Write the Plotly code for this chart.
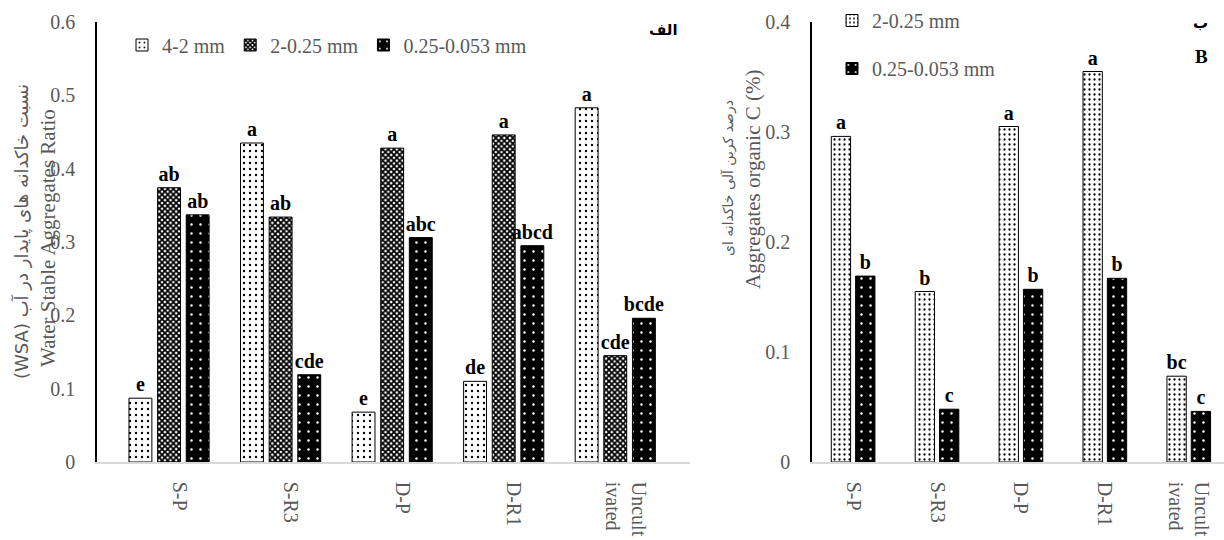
import plotly.graph_objects as go

# ---------------- data ----------------
categories = ["S-P", "S-R3", "D-P", "D-R1", "Uncult<br>ivated"]

# left panel (Water Stable Aggregates Ratio)
wsa_4_2 = [0.087, 0.435, 0.068, 0.110, 0.483]
wsa_2_025 = [0.374, 0.334, 0.428, 0.446, 0.145]
wsa_025_0053 = [0.337, 0.119, 0.306, 0.295, 0.196]
wsa_4_2_letters = ["e", "a", "e", "de", "a"]
wsa_2_025_letters = ["ab", "ab", "a", "a", "cde"]
wsa_025_0053_letters = ["ab", "cde", "abc", "abcd", "bcde"]

# right panel (Aggregates organic C %)
oc_2_025 = [0.296, 0.155, 0.305, 0.355, 0.078]
oc_025_0053 = [0.169, 0.048, 0.157, 0.167, 0.046]
oc_2_025_letters = ["a", "b", "a", "a", "bc"]
oc_025_0053_letters = ["b", "c", "b", "b", "c"]

left_ticks = [0, 0.1, 0.2, 0.3, 0.4, 0.5, 0.6]
right_ticks = [0, 0.1, 0.2, 0.3, 0.4]

# ---------------- style ----------------
W, H = 1224, 540
SERIF = "Liberation Serif"
GRAY = "#595959"
xpos = list(range(len(categories)))

def px(x):
    return x / W

def py(y):
    return 1 - y / H

dots = dict(shape=".", fgcolor="black", bgcolor="white", size=6, solidity=0.12)
dots_dense = dict(shape=".", fgcolor="black", bgcolor="white", size=5, solidity=0.16)
checker = dict(shape="x", fgcolor="black", bgcolor="white", size=4, solidity=0.7)
black_dots = dict(shape=".", fgcolor="white", bgcolor="black", size=9, solidity=0.06)

txtfont = dict(family=SERIF, size=20, color="black", weight="bold")

fig = go.Figure()

def add_bar(y, letters, name, pattern, xa, ya, legend):
    fig.add_trace(go.Bar(
        x=xpos, y=y, name=name, text=letters,
        textposition="outside", textfont=txtfont, constraintext="none",
        cliponaxis=False,
        marker=dict(color="white", pattern=pattern,
                    line=dict(color="black", width=1)),
        xaxis=xa, yaxis=ya, legend=legend, legendgroup=name + legend,
        offsetgroup=name + xa,
    ))

add_bar(wsa_4_2, wsa_4_2_letters, "4-2 mm", dots, "x", "y", "legend")
add_bar(wsa_2_025, wsa_2_025_letters, "2-0.25 mm", checker, "x", "y", "legend")
add_bar(wsa_025_0053, wsa_025_0053_letters, "0.25-0.053 mm", black_dots, "x", "y", "legend")
add_bar(oc_2_025, oc_2_025_letters, "2-0.25 mm", dots_dense, "x2", "y2", "legend2")
add_bar(oc_025_0053, oc_025_0053_letters, "0.25-0.053 mm", black_dots, "x2", "y2", "legend2")

tickfont = dict(family=SERIF, size=20, color=GRAY)

xcommon = dict(tickvals=xpos, ticktext=categories, tickangle=90, tickfont=tickfont,
               showline=True, linecolor="#d9d9d9", linewidth=1.5, showgrid=False,
               zeroline=False, ticks="", ticklabelstandoff=14, automargin=False)
ycommon = dict(showline=True, linecolor="black", linewidth=1.5, showgrid=False,
               zeroline=False, ticks="", tickfont=tickfont, ticklabelstandoff=16,
               automargin=False)

fig.update_layout(
    template="none",
    width=W, height=H,
    margin=dict(l=0, r=0, t=0, b=0, autoexpand=False),
    paper_bgcolor="white", plot_bgcolor="white",
    barmode="group", bargap=0.23, bargroupgap=0.2,
    font=dict(family=SERIF, color=GRAY),
    showlegend=True,
    xaxis=dict(domain=[px(97), px(690)], range=[-0.646, 4.67], ticklabelshift=10,
               **xcommon),
    yaxis=dict(domain=[py(462), py(22)], range=[0, 0.6], tickvals=left_ticks,
               ticktext=[f"{v:g}" for v in left_ticks], anchor="x", **ycommon),
    xaxis2=dict(domain=[px(812), 1], range=[-0.49, 4.42], anchor="y2", **xcommon),
    yaxis2=dict(domain=[py(462), py(22)], range=[0, 0.4], tickvals=right_ticks,
                ticktext=[f"{v:g}" for v in right_ticks], anchor="x2", **ycommon),
    legend=dict(orientation="h", x=px(122), y=py(45), xanchor="left", yanchor="middle",
                font=dict(family=SERIF, size=20, color=GRAY), bgcolor="rgba(0,0,0,0)",
                itemwidth=30, traceorder="normal"),
    legend2=dict(orientation="v", x=px(832), y=py(1), xanchor="left", yanchor="top",
                 font=dict(family=SERIF, size=20, color=GRAY), bgcolor="rgba(0,0,0,0)",
                 itemwidth=30, tracegroupgap=19, traceorder="grouped"),
)

# narrower bars in the right panel
fig.update_traces(selector=dict(xaxis="x2"), width=0.23)
fig.update_traces(selector=dict(xaxis="x2", name="2-0.25 mm"), offset=-0.26)
fig.update_traces(selector=dict(xaxis="x2", name="0.25-0.053 mm"), offset=0.03)

ann = [
    dict(text="(WSA) نسبت خاکدانه های پایدار در آب", x=px(22), y=py(232), textangle=-90,
         font=dict(family="DejaVu Sans", size=18, color=GRAY)),
    dict(text="Water Stable Aggregates Ratio", x=px(48), y=py(238), textangle=-90,
         font=dict(family=SERIF, size=21, color=GRAY)),
    dict(text="درصد کربن آلی خاکدانه ای", x=px(728), y=py(178), textangle=-90,
         font=dict(family="DejaVu Sans", size=14, color=GRAY)),
    dict(text="Aggregates organic C (%)", x=px(753), y=py(180), textangle=-90,
         font=dict(family=SERIF, size=21, color=GRAY)),
    dict(text="<b>الف</b>", x=px(663), y=py(30),
         font=dict(family="DejaVu Sans", size=15, color="black")),
    dict(text="<b>ب</b>", x=px(1200), y=py(23),
         font=dict(family="DejaVu Sans", size=15, color="black")),
    dict(text="<b>B</b>", x=px(1201), y=py(57),
         font=dict(family=SERIF, size=19, color="black")),
]
for a in ann:
    fig.add_annotation(xref="paper", yref="paper", showarrow=False,
                       xanchor="center", yanchor="middle", **a)

fig.write_html(
    "out.html",
    config={"displayModeBar": False},
    post_script="document.body.style.margin='0';document.body.style.padding='0';",
)
